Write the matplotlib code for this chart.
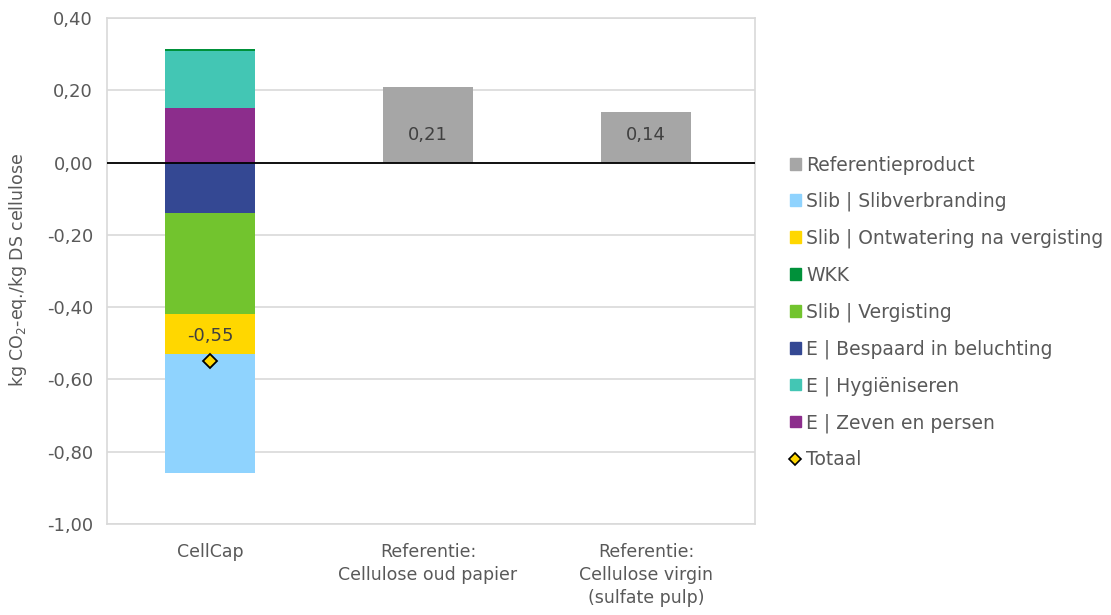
import matplotlib
matplotlib.use("Agg")
import matplotlib.pyplot as plt
from matplotlib.patches import Patch
from matplotlib.lines import Line2D
import numpy as np

categories = ["CellCap", "Referentie:\nCellulose oud papier", "Referentie:\nCellulose virgin\n(sulfate pulp)"]

# CellCap components (kg CO2-eq./kg DS cellulose)
comp_names = ["E | Zeven en persen", "E | Hygiëniseren", "WKK",
              "E | Bespaard in beluchting", "Slib | Vergisting",
              "Slib | Ontwatering na vergisting", "Slib | Slibverbranding"]
comp_values = [0.15, 0.16, 0.003, -0.14, -0.28, -0.11, -0.33]
comp_colors = ["#8C2D8C", "#43C6B4", "#00913A", "#344893", "#72C42E", "#FFD700", "#8FD3FE"]

ref_values = [0.0, 0.21, 0.14]
ref_labels = ["", "0,21", "0,14"]
totaal = -0.55
totaal_label = "-0,55"

yticks = [0.40, 0.20, 0.00, -0.20, -0.40, -0.60, -0.80, -1.00]

txt = "#595959"
plt.rcParams['font.family'] = ['DejaVu Sans']
plt.rcParams['font.size'] = 12.5

fig = plt.figure(figsize=(11.11, 6.15), dpi=100)
ax = fig.add_axes([107/1111, 1-524/615, (755-107)/1111, (524-18)/615])

x = np.arange(len(categories))
w = 0.415
pos_bottom = 0.0
neg_bottom = 0.0
handles = {}
for name, v, c in zip(comp_names, comp_values, comp_colors):
    if v >= 0:
        ax.bar(x[0], v, w, bottom=pos_bottom, color=c, zorder=3)
        pos_bottom += v
    else:
        ax.bar(x[0], v, w, bottom=neg_bottom, color=c, zorder=3)
        neg_bottom += v
    handles[name] = Patch(color=c)

ax.bar(x[1:], ref_values[1:], w, color="#A6A6A6", zorder=3)
label_y = 0.076
for xi, v, lab in zip(x[1:], ref_values[1:], ref_labels[1:]):
    ax.text(xi, label_y, lab, ha="center", va="center", color="#404040", fontsize=13, zorder=5)

ax.plot([x[0]], [totaal], marker="D", markersize=7, markerfacecolor="#FFD700",
        markeredgecolor="black", markeredgewidth=1.3, linestyle="none", zorder=5)
ax.text(x[0], totaal + 0.07, totaal_label, ha="center", va="center", color="#404040", fontsize=13, zorder=5)

ax.axhline(0, color="black", linewidth=1.3, zorder=4)

ax.set_xlim(-0.472, 2.5)
ax.set_ylim(-1.0, 0.4)
ax.set_yticks(yticks)
ax.set_yticklabels([f"{t:.2f}".replace(".", ",") for t in yticks], color=txt, fontsize=13)
ax.set_xticks(x)
ax.set_xticklabels(categories, color=txt, fontsize=12.5, linespacing=1.35)
ax.tick_params(length=0, pad=10)
ax.tick_params(axis="x", pad=14)
ax.yaxis.grid(True, color="#D9D9D9", linewidth=1.2, zorder=0)
ax.set_axisbelow(True)
for s in ax.spines.values():
    s.set_color("#D9D9D9")
    s.set_linewidth(1.2)

fig.text(18/1111, 1-270/615, "kg CO$_2$-eq./kg DS cellulose", rotation=90, ha="center", va="center",
         color=txt, fontsize=12.5)

order = ["Referentieproduct", "Slib | Slibverbranding", "Slib | Ontwatering na vergisting", "WKK",
         "Slib | Vergisting", "E | Bespaard in beluchting", "E | Hygiëniseren", "E | Zeven en persen", "Totaal"]
handles["Referentieproduct"] = Patch(color="#A6A6A6")
handles["Totaal"] = Line2D([], [], marker="D", markersize=6, markerfacecolor="#FFD700",
                           markeredgecolor="black", markeredgewidth=1.2, linestyle="none")
leg = fig.legend([handles[k] for k in order], order, loc="upper left",
                 bbox_to_anchor=(782/1111, 1-148/615), frameon=False,
                 handlelength=0.6, handleheight=0.6, handletextpad=0.3,
                 labelspacing=0.93, fontsize=13.5, labelcolor=txt, borderaxespad=0)

fig.savefig("out.png", dpi=100)
